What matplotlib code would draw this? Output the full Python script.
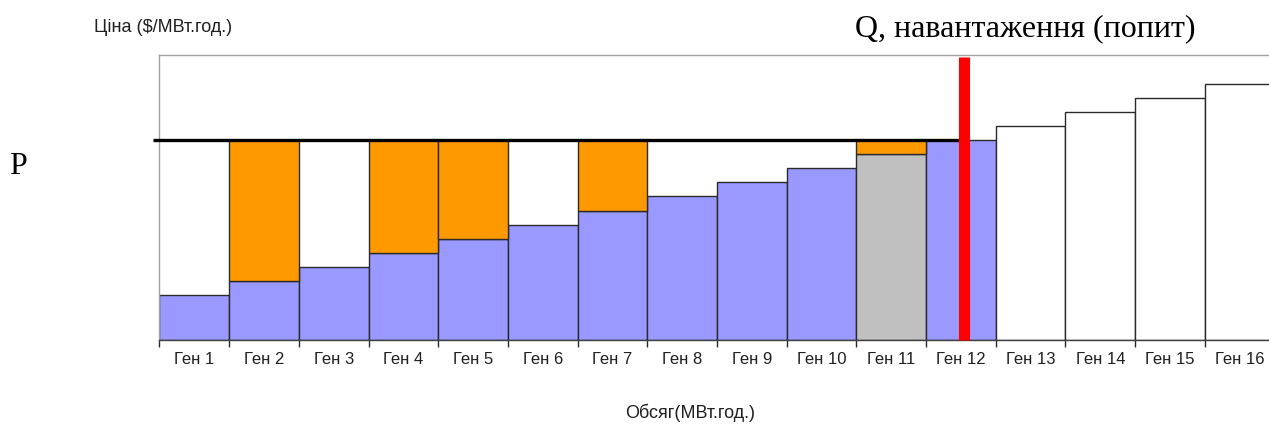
import matplotlib
matplotlib.use("Agg")
import matplotlib.pyplot as plt

# ---- data ----
generators = ["Ген 1", "Ген 2", "Ген 3", "Ген 4", "Ген 5", "Ген 6", "Ген 7", "Ген 8",
              "Ген 9", "Ген 10", "Ген 11", "Ген 12", "Ген 13", "Ген 14", "Ген 15", "Ген 16"]
bid_prices = [3.15, 4.15, 5.15, 6.15, 7.15, 8.15, 9.15, 10.15,
              11.15, 12.15, 13.15, 14.15, 15.15, 16.15, 17.15, 18.15]
bar_colors = ["#9999FF"] * 10 + ["#C0C0C0", "#9999FF"] + ["#FFFFFF"] * 4
surplus_gens = ["Ген 2", "Ген 4", "Ген 5", "Ген 7", "Ген 11"]
market_price = 14.15
demand_q = 11.54
price_line_start = -0.09
demand_line_top = 20.05
y_max = 20.22
x_max = 15.92

fig = plt.figure(figsize=(12.69, 4.28), dpi=100)
ax = fig.add_axes([159.5 / 1269, (428 - 339.5) / 428, (1269 - 159.5) / 1269, 285 / 428])

xs = [i + 0.5 for i in range(len(generators))]
ax.bar(xs, bid_prices, width=1.0, color=bar_colors, edgecolor="#2a2a2a", linewidth=1.0, zorder=2)

for i, g in enumerate(generators):
    if g in surplus_gens:
        ax.bar(xs[i], market_price - bid_prices[i], bottom=bid_prices[i], width=1.0,
               color="#FF9900", edgecolor="#2a2a2a", linewidth=1.0, zorder=2)

ax.plot([price_line_start, demand_q], [market_price, market_price], color="black",
        linewidth=2.4, solid_capstyle="butt", clip_on=False, zorder=4)
ax.plot([demand_q, demand_q], [0, demand_line_top], color="#FF0000", linewidth=8,
        solid_capstyle="butt", clip_on=False, zorder=5)

ax.set_xticks(range(len(generators) + 1))
ax.set_xticklabels([])
ax.set_xticks(xs, minor=True)
ax.set_xticklabels(generators, minor=True, fontsize=12, family="Liberation Sans", color="#202020")
ax.tick_params(axis="x", which="major", length=5, width=1.0, color="#2a2a2a", direction="out")
ax.tick_params(axis="x", which="minor", length=0, pad=9)
ax.set_yticks([])

ax.set_xlim(0, x_max)
ax.set_ylim(0, y_max)

ax.spines["right"].set_visible(False)
ax.spines["top"].set_color("#a0a0a0")
ax.spines["left"].set_color("#a0a0a0")
ax.spines["bottom"].set_color("#404040")
for s in ax.spines.values():
    s.set_linewidth(1.0)

fig.text(163 / 1269, 1 - 27 / 428, "Ціна ($/МВт.год.)", ha="center", va="center",
         fontsize=13, family="Liberation Sans", color="#202020")
fig.text(690 / 1269, 1 - 413 / 428, "Обсяг(МВт.год.)", ha="center", va="center",
         fontsize=13, family="Liberation Sans", color="#202020")
fig.text(1025 / 1269, 1 - 29 / 428, "Q, навантаження (попит)", ha="center", va="center",
         fontsize=23, family="Liberation Serif", color="black")
fig.text(18 / 1269, 1 - 166 / 428, "P", ha="center", va="center",
         fontsize=23, family="Liberation Serif", color="black")

fig.savefig("out.png", dpi=100)
